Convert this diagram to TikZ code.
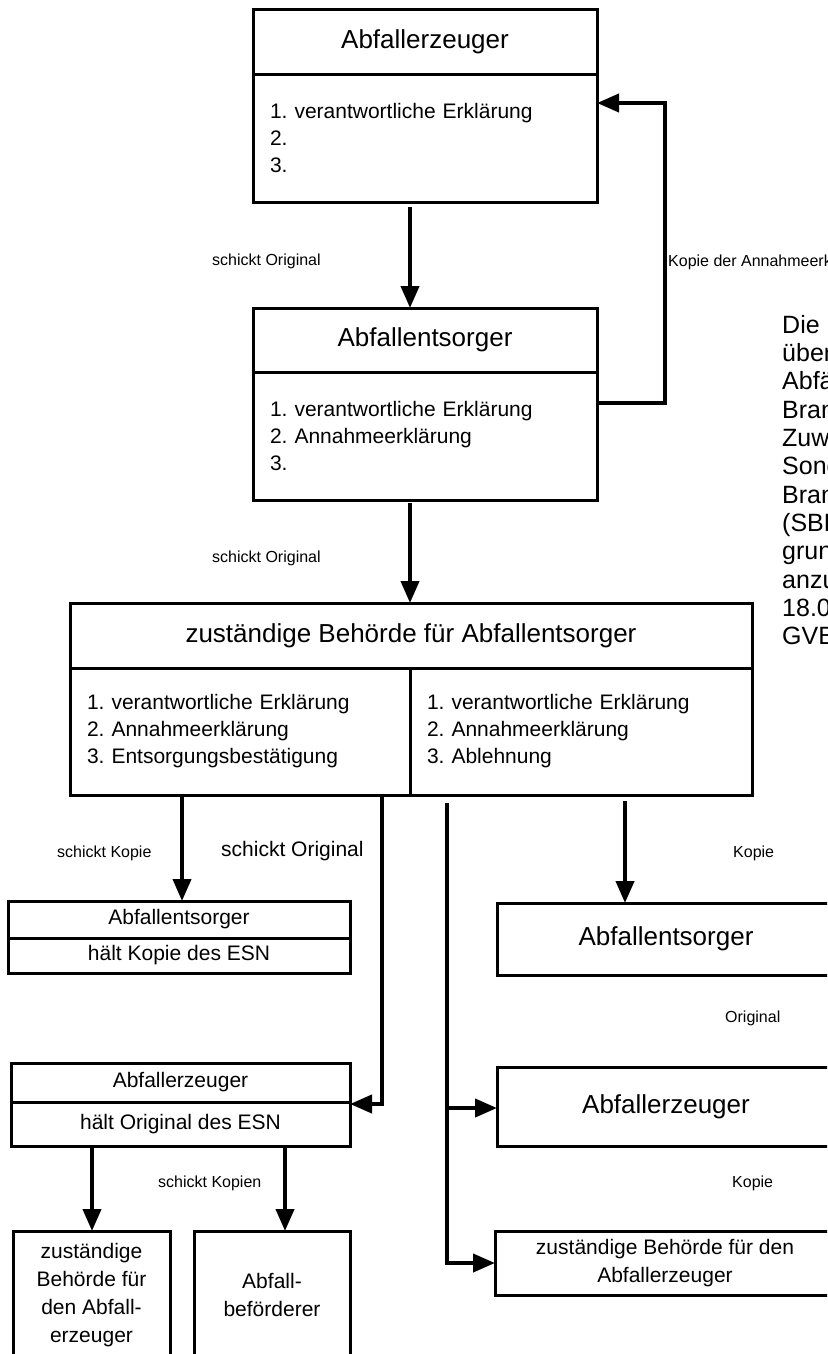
\documentclass[tikz,border=0pt]{standalone}
\usepackage{fontspec}
\setmainfont{Liberation Sans}
\usetikzlibrary{arrows.meta}
\frenchspacing
\newcommand\titlesize{\fontsize{26}{30}\selectfont}
\newcommand\itemsize{\fontsize{21}{27}\selectfont}
\newcommand\smallsize{\fontsize{21}{28}\selectfont}
\newcommand\labelsize{\fontsize{16}{19}\selectfont}
\newcommand\notesize{\fontsize{25}{28.3}\selectfont}
\tikzset{
  box/.style={draw, line width=3pt, anchor=north west, inner sep=0pt, outer sep=0pt, align=center},
  liste/.style={box, align=left, inner xsep=17pt, font=\itemsize},
  arr/.style={line width=4pt, -{Triangle[length=22pt,width=18pt]}},
  lbl/.style={anchor=west, inner sep=0pt, font=\labelsize}
}
\begin{document}
\begin{tikzpicture}[x=1pt,y=-1pt]
\useasboundingbox (0,0) rectangle (827,1354);
\clip (0,0) rectangle (827,1354);

% Abfallerzeuger und Abfallentsorger oben
\node[box, minimum width=344pt, minimum height=64pt, font=\titlesize] (erz) at (253,10) {Abfallerzeuger};
\node[liste, text width=310pt, minimum height=128pt] (erzL) at (erz.south west) {1. verantwortliche Erklärung\\2.\\3.};
\node[box, minimum width=344pt, minimum height=64pt, font=\titlesize] (ent) at (253,308) {Abfallentsorger};
\node[liste, text width=310pt, minimum height=128pt] (entL) at (ent.south west) {1. verantwortliche Erklärung\\2. Annahmeerklärung\\3.};

% Behoerde
\node[box, minimum width=682pt, minimum height=65pt, font=\titlesize] (beh) at (70,603) {zuständige Behörde für Abfallentsorger};
\node[liste, text width=306pt, minimum height=127pt] (behL) at (beh.south west) {1. verantwortliche Erklärung\\2. Annahmeerklärung\\3. Entsorgungsbestätigung};
\node[liste, text width=308pt, minimum height=127pt] (behR) at (behL.north east) {1. verantwortliche Erklärung\\2. Annahmeerklärung\\3. Ablehnung};

% linke Seite
\node[box, minimum width=342pt, minimum height=37pt, font=\smallsize] (ent2) at (8,901) {Abfallentsorger};
\node[box, minimum width=342pt, minimum height=35pt, font=\smallsize] (ent2L) at (ent2.south west) {hält Kopie des ESN};
\node[box, minimum width=339pt, minimum height=39pt, font=\smallsize] (erz2) at (11,1063) {Abfallerzeuger};
\node[box, minimum width=339pt, minimum height=44pt, font=\smallsize] (erz2L) at (erz2.south west) {hält Original des ESN};
\node[box, minimum width=157pt, minimum height=129pt, font=\smallsize] (beh2) at (13,1231) {zuständige\\Behörde für\\den Abfall-\\erzeuger};
\node[box, minimum width=156pt, minimum height=127pt, font=\smallsize] (bef) at (194,1231) {Abfall-\\beförderer};

% rechte Seite
\node[box, minimum width=338pt, minimum height=72pt, font=\titlesize] (ent3) at (497,903) {Abfallentsorger};
\node[box, minimum width=338pt, minimum height=79pt, font=\titlesize] (erz3) at (497,1067) {Abfallerzeuger};
\node[box, minimum width=340pt, minimum height=64pt, font=\smallsize] (beh3) at (495,1231) {zuständige Behörde für den\\Abfallerzeuger};

\node[anchor=north west, inner sep=0pt, align=left, font=\notesize] (hinweis) at (782,315) {Die\\überwachungsbedürftigen\\Abfälle\\Brandenburgs\\Zuweisung\\Sonderabfallgesellschaft\\Brandenburg/Berlin\\(SBB)\\grundsätzlich\\anzudienen\\18.0\\GVBl};

\node[lbl] (l1) at (212,261) {schickt Original};
\node[lbl] (l2) at (212,558) {schickt Original};
\node[lbl] (l3) at (668,262) {Kopie der Annahmeerklärung};
\node[lbl] (l4) at (57,853) {schickt Kopie};
\node[lbl, font=\smallsize] (l5) at (221,851) {schickt Original};
\node[lbl] (l6) at (733,853) {Kopie};
\node[lbl] (l7) at (725,1018) {Original};
\node[lbl] (l8) at (158,1183) {schickt Kopien};
\node[lbl] (l9) at (732,1183) {Kopie};

\coordinate (a1) at (410,0);
\coordinate (k1) at (665,403);
\coordinate (k2) at (665,103);
\coordinate (a2) at (182,0);
\coordinate (a3) at (382,1104);
\coordinate (a4) at (447,1108);
\coordinate (a5) at (447,1263);
\coordinate (a6) at (625,0);
\coordinate (a7) at (92,0);
\coordinate (a8) at (285,0);

\draw[arr, shorten <=5pt] (erzL.south -| a1) -- (ent.north -| a1);
\draw[arr, shorten <=3pt] (entL.south -| a1) -- (beh.north -| a1);
\draw[arr] (k1 -| entL.east) -- (k1) -- (k2) -- (k2 -| erzL.east);
\draw[arr] (behL.south -| a2) -- (ent2.north -| a2);
\draw[arr] (behL.south -| a3) -- (a3) -- (a3 -| erz2.east);
\draw[arr, shorten <=8pt] (behR.south -| a5) -- (a5) -- (a5 -| beh3.west);
\draw[arr] (a4) -- (a4 -| erz3.west);
\draw[arr, shorten <=6pt] (behR.south -| a6) -- (ent3.north -| a6);
\draw[arr] (erz2L.south -| a7) -- (beh2.north -| a7);
\draw[arr] (erz2L.south -| a8) -- (bef.north -| a8);
\end{tikzpicture}
\end{document}
